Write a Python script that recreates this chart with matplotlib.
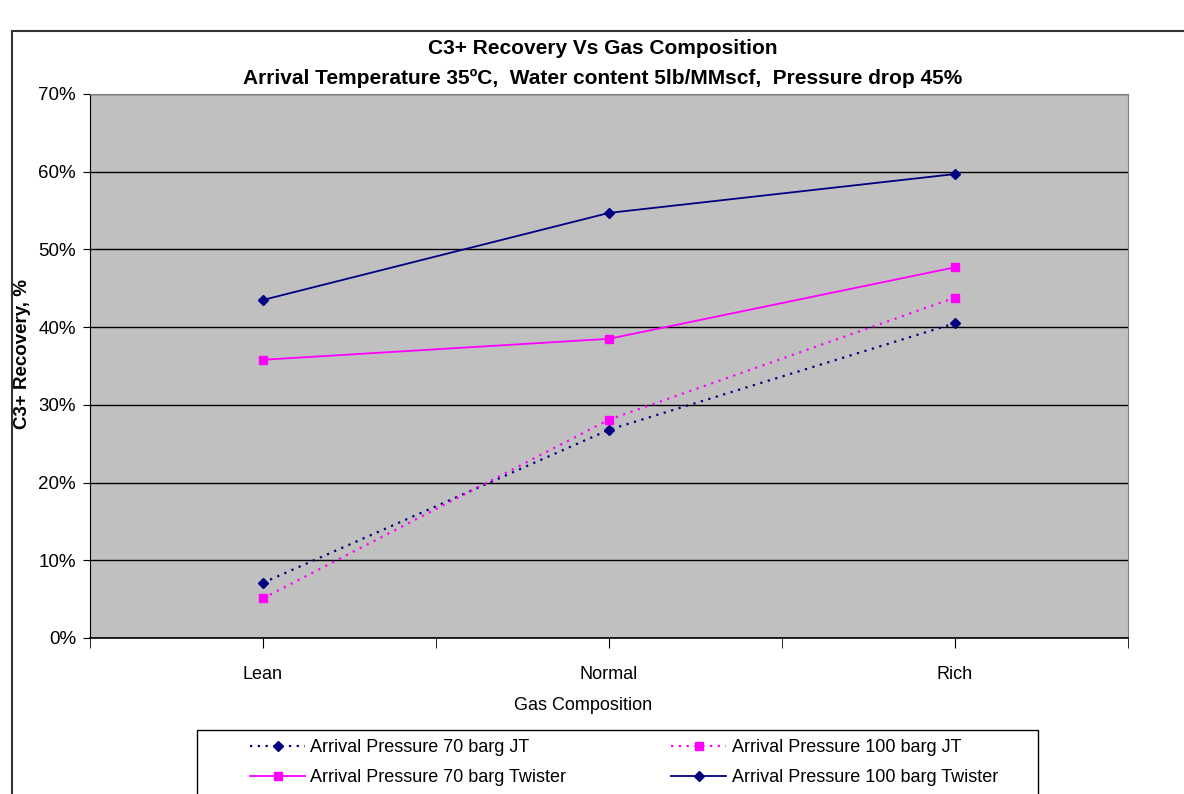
import numpy as np
import matplotlib.pyplot as plt
from matplotlib.patches import Rectangle
from matplotlib.ticker import FuncFormatter

plt.rcParams['font.family'] = ['Liberation Sans', 'DejaVu Sans']

categories = ['Lean', 'Normal', 'Rich']
jt_70 = [7.1, 26.8, 40.5]
jt_100 = [5.1, 28.1, 43.8]
twister_70 = [35.8, 38.5, 47.7]
twister_100 = [43.5, 54.7, 59.7]

navy = '#000080'
magenta = '#FF00FF'
W, H = 1184, 794

fig = plt.figure(figsize=(11.84, 7.94), dpi=100)
ax = fig.add_axes([90/W, 1 - 638/H, (1128-90)/W, (638-94)/H])
ax.set_facecolor('#C0C0C0')

# outer chart border
fig.patches.append(Rectangle((12/W, -0.1), 1.2, 0.1 + 1 - 31/H,
                             transform=fig.transFigure, fill=False,
                             edgecolor='#333333', linewidth=1.5))

x = np.array([1, 3, 5])
l1, = ax.plot(x, jt_70, linestyle=(0, (1, 2.5)), color=navy, lw=1.6, marker='D',
              ms=5.5, label='Arrival Pressure 70 barg JT')
l2, = ax.plot(x, jt_100, linestyle=(0, (1, 2.5)), color=magenta, lw=1.6, marker='s',
              ms=6, label='Arrival Pressure 100 barg JT')
l3, = ax.plot(x, twister_70, linestyle='-', color=magenta, lw=1.3, marker='s',
              ms=6, label='Arrival Pressure 70 barg Twister')
l4, = ax.plot(x, twister_100, linestyle='-', color=navy, lw=1.3, marker='D',
              ms=5.5, label='Arrival Pressure 100 barg Twister')

ax.set_xlim(0, 6)
ax.set_ylim(0, 70)
ax.set_xticks(x)
ax.set_xticklabels(categories)
ax.set_xticks([0, 2, 4, 6], minor=True)
ax.tick_params(axis='x', which='both', length=7, direction='out', color='black')
ax.tick_params(axis='x', which='major', pad=13.5, labelsize=13)
ax.set_yticks(range(0, 71, 10))
ax.yaxis.set_major_formatter(FuncFormatter(lambda v, p: f'{v:.0f}%'))
ax.tick_params(axis='y', length=5, direction='out', labelsize=13.5, pad=5)
ax.grid(axis='y', color='black', linewidth=1)
ax.set_axisbelow(True)

for s in ['top', 'right']:
    ax.spines[s].set_color('#808080')
ax.spines['left'].set_color('black')
ax.spines['bottom'].set_color('black')
ax.spines['bottom'].set_linewidth(1.2)

fig.text(23/W, 1 - 354/H, 'C3+ Recovery, %', rotation=90, fontsize=13.5,
         fontweight='bold', ha='center', va='center')
fig.text(583/W, 1 - 706/H, 'Gas Composition', fontsize=13, ha='center', va='center')
fig.text(603/W, 1 - 48/H, 'C3+ Recovery Vs Gas Composition',
         fontsize=15, fontweight='bold', ha='center', va='center')
fig.text(603/W, 1 - 78/H,
         'Arrival Temperature 35ºC,  Water content 5lb/MMscf,  Pressure drop 45%',
         fontsize=15, fontweight='bold', ha='center', va='center')

# legend box
fig.patches.append(Rectangle((197/W, -0.1), (1038-197)/W, 0.1 + 1 - 730/H,
                             transform=fig.transFigure, facecolor='white',
                             edgecolor='black', linewidth=1))
leg = fig.legend([l1, l3, l2, l4], [h.get_label() for h in [l1, l3, l2, l4]],
                 loc='upper left', bbox_to_anchor=(250/W, 1 - 739/H),
                 ncol=2, fontsize=13, frameon=False, handlelength=3.05,
                 handletextpad=0.3, columnspacing=5.8, borderpad=0,
                 borderaxespad=0, labelspacing=0.73)

fig.savefig('out.png', dpi=100, facecolor='white')
